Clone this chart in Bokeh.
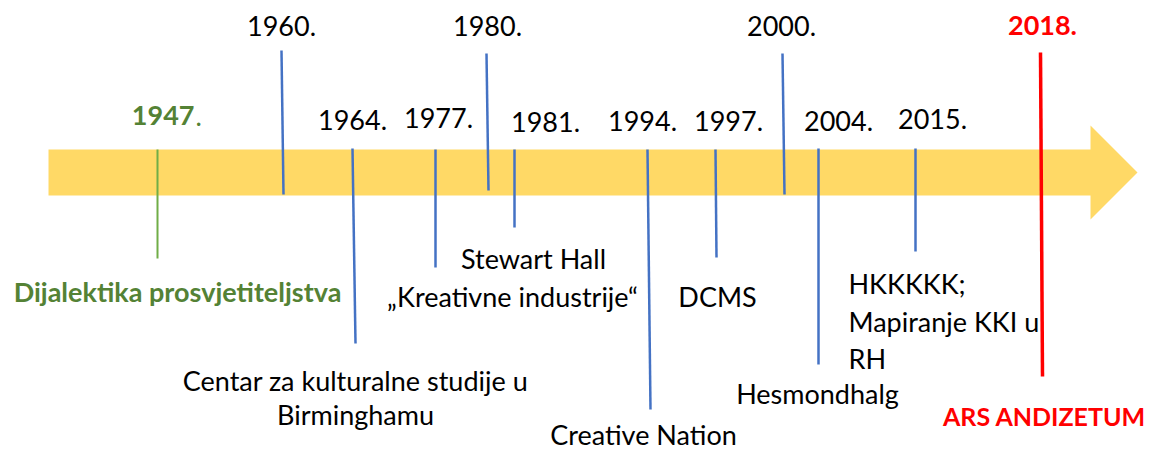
from bokeh.plotting import figure
from bokeh.models import Range1d, ColumnDataSource
from bokeh.core.properties import value
from bokeh.embed import file_html
from bokeh.resources import INLINE

# ---- data ----
years = ["1947", "1960.", "1964.", "1977.", "1980.", "1981.", "1994.", "1997.",
         "2000.", "2004.", "2015.", "2018."]
desc_lines = [
    ["Dijalektika prosvjetiteljstva"],
    [],
    ["Centar za kulturalne studije u", "Birminghamu"],
    ["Stewart Hall"],
    [],
    ["\u201eKreativne industrije\u201c"],
    ["Creative Nation"],
    ["DCMS"],
    [],
    ["Hesmondhalg"],
    ["HKKKKK;", "Mapiranje KKI u", "RH"],
    ["ARS ANDIZETUM"],
]
kinds = ["green", "blue", "blue", "blue", "blue", "blue", "blue", "blue",
         "blue", "blue", "blue", "red"]

# ---- layout (pixel positions) ----
line_x0 = [157, 281, 352, 435, 486, 514, 647, 715, 782, 818, 915, 1040]
line_x1 = [157, 283, 355, 435, 488, 514, 650, 716, 784, 818, 915, 1042]
line_y0 = [149, 50, 148, 149, 53, 149, 149, 149, 53, 148, 148, 52]
line_y1 = [258, 194, 343, 267, 190, 227, 409, 257, 194, 364, 251, 376]
year_x = [194, 281, 352, 438, 487, 545, 642, 728, 781, 838, 932, 1042]
year_y = [126, 36, 130, 128, 36, 132, 131, 131, 36, 131, 129, 36]
desc_x = [[177], [], [355, 355], [533], [], [512], [643], [717], [], [817],
          [848, 848, 848], [1044]]
desc_y = [[302], [], [391, 425], [269], [], [307], [445], [307], [], [404],
          [294, 332, 369], [426]]
desc_align = ["center", None, "center", "center", None, "center", "center",
              "center", None, "center", "left", "center"]
desc_size = ["27px", None, "27px", "27px", None, "27px", "27px", "27px", None,
             "27px", "27px", "25px"]
TEXT_SHIFT = -11  # baseline correction for rendered text

colors = {"green": "#548235", "blue": "#000000", "red": "#FF0000"}
line_colors = {"green": "#70AD47", "blue": "#4472C4", "red": "#FF0000"}
line_widths = {"green": 2, "blue": 2.5, "red": 3.5}
FONT = value("Lato")
FS = "27px"

p = figure(width=1149, height=452, x_range=Range1d(0, 1149), y_range=Range1d(452, 0),
           output_backend="svg", toolbar_location=None, min_border=0)
p.axis.visible = False
p.grid.visible = False
p.outline_line_color = None
p.background_fill_color = "white"

# arrow
ax = [48, 1090, 1090, 1137, 1090, 1090, 48]
ay = [149, 149, 125, 172, 219, 195, 195]
p.patch(ax, ay, fill_color="#FFD966", line_color=None)

# lines
for k in ["green", "blue", "red"]:
    idx = [i for i in range(len(years)) if kinds[i] == k]
    src = ColumnDataSource(dict(x0=[line_x0[i] for i in idx], x1=[line_x1[i] for i in idx],
                                y0=[line_y0[i] for i in idx], y1=[line_y1[i] for i in idx]))
    p.segment("x0", "y0", "x1", "y1", source=src, line_color=line_colors[k],
              line_width=line_widths[k])

# year labels
for i, y in enumerate(years):
    k = kinds[i]
    bold = k in ("green", "red")
    align = "right" if i == 0 else "center"
    p.text(x=[year_x[i]], y=[year_y[i] + TEXT_SHIFT], text=[y], text_font=FONT,
           text_font_size=FS, text_font_style="bold" if bold else "normal",
           text_color=colors[k], text_align=align, text_baseline="alphabetic")
    if i == 0:
        p.text(x=[year_x[i] + 1], y=[year_y[i] + TEXT_SHIFT], text=["."], text_font=FONT,
               text_font_size=FS, text_color=colors[k], text_align="left",
               text_baseline="alphabetic")

# descriptions
for i, lines in enumerate(desc_lines):
    k = kinds[i]
    bold = k in ("green", "red")
    for j, t in enumerate(lines):
        p.text(x=[desc_x[i][j]], y=[desc_y[i][j] + TEXT_SHIFT], text=[t], text_font=FONT,
               text_font_size=desc_size[i], text_font_style="bold" if bold else "normal",
               text_color=colors[k], text_align=desc_align[i], text_baseline="alphabetic")

open("out.html", "w").write(file_html(p, INLINE))
